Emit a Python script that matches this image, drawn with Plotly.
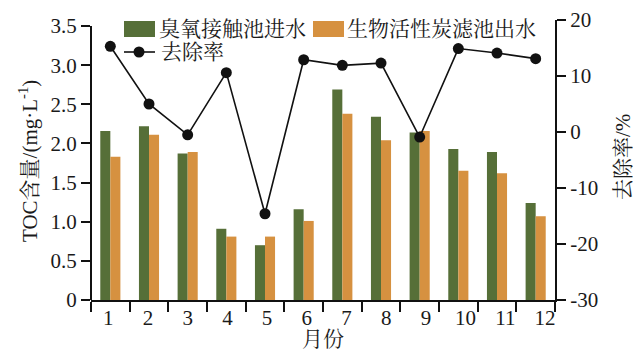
import plotly.graph_objects as go

months = ["1", "2", "3", "4", "5", "6", "7", "8", "9", "10", "11", "12"]
ozone_inflow = [2.16, 2.22, 1.87, 0.91, 0.70, 1.16, 2.69, 2.34, 2.14, 1.93, 1.89, 1.24]
bac_outflow = [1.83, 2.11, 1.89, 0.81, 0.81, 1.01, 2.38, 2.04, 2.16, 1.65, 1.62, 1.07]
removal_rate = [15.3, 5.0, -0.5, 10.6, -14.6, 12.9, 11.9, 12.3, -0.9, 14.9, 14.1, 13.1]

left_ticks = [0, 0.5, 1.0, 1.5, 2.0, 2.5, 3.0, 3.5]
left_ticktext = ["0", "0.5", "1.0", "1.5", "2.0", "2.5", "3.0", "3.5"]
right_ticks = [-30, -20, -10, 0, 10, 20]
right_ticktext = ["-30", "-20", "-10", "0", "10", "20"]

names = ["臭氧接触池进水", "生物活性炭滤池出水", "去除率"]
GREEN = "#566F38"
ORANGE = "#D69140"
BLACK = "#111111"

FONT = "Times New Roman, Liberation Serif, Noto Serif CJK SC, Noto Sans CJK SC, serif"
# page body has an 8px default margin: figure occupies (8,8)-(641,356)
OFF = 8
W, H = 641 - OFF, 356 - OFF
PL, PR, PT, PB = 91, 555, 20, 300  # plot area in page pixels
L, R, T, B = PL - OFF, 641 - PR, PT - OFF, 356 - PB


def px_x(px):
    return (px - PL) / (PR - PL)


def px_y(py):
    return (PB - py) / (PB - PT)


month_nums = [int(m) for m in months]

fig = go.Figure()
fig.add_trace(go.Bar(x=months, y=ozone_inflow, marker=dict(color=GREEN, line=dict(width=0)),
                     name=names[0], showlegend=False))
fig.add_trace(go.Bar(x=months, y=bac_outflow, marker=dict(color=ORANGE, line=dict(width=0)),
                     name=names[1], showlegend=False))
fig.add_trace(go.Scatter(x=months, y=removal_rate, yaxis="y2", mode="lines+markers",
                         line=dict(color=BLACK, width=1.6),
                         marker=dict(color=BLACK, size=11),
                         name=names[2], showlegend=False))
# invisible helper trace for the month-label axis
fig.add_trace(go.Scatter(x=month_nums, y=[None] * len(month_nums), xaxis="x2", mode="markers",
                         showlegend=False, hoverinfo="skip"))

fig.update_layout(
    width=W, height=H,
    margin=dict(l=L, r=R, t=T, b=B, autoexpand=False),
    paper_bgcolor="white", plot_bgcolor="white",
    font=dict(family=FONT, size=21, color="#1a1a1a"),
    barmode="group", bargap=0.48, bargroupgap=0.0,
    showlegend=False,
    xaxis=dict(type="category", range=[-0.5, 11.5], tickson="boundaries", ticks="outside",
               ticklen=10, tickwidth=1.5,
               tickcolor=BLACK, showline=True, linecolor=BLACK, linewidth=2,
               showticklabels=False, showgrid=False, zeroline=False, automargin=False),
    xaxis2=dict(type="linear", overlaying="x", side="bottom", anchor="y",
                range=[0.564, 12.252], tickvals=month_nums, ticktext=months,
                ticks="", showline=False, showgrid=False, zeroline=False,
                tickfont=dict(size=21), automargin=False, ticklabelstandoff=3),
    yaxis=dict(range=[0, 3.577], tickvals=left_ticks, ticktext=left_ticktext,
               ticks="outside", ticklen=9, tickwidth=1.5, tickcolor=BLACK,
               showline=False, showgrid=False, zeroline=False, tickfont=dict(size=21),
               automargin=False),
    yaxis2=dict(range=[-30, 20], overlaying="y", side="right", tickvals=right_ticks,
                ticktext=right_ticktext, ticks="outside", ticklen=9, tickwidth=1.5, tickcolor=BLACK,
                showline=True, linecolor=BLACK, linewidth=2, showgrid=False, zeroline=False,
                tickfont=dict(size=21), automargin=False),
)

# left axis line from 0 to 3.5
fig.add_shape(type="line", xref="paper", yref="y", x0=0, x1=0, y0=0, y1=3.5,
              line=dict(color=BLACK, width=2))

# legend
fig.add_shape(type="rect", xref="paper", yref="paper", x0=px_x(124), x1=px_x(155),
              y0=px_y(37), y1=px_y(21), fillcolor=GREEN, line=dict(width=0))
fig.add_shape(type="rect", xref="paper", yref="paper", x0=px_x(313), x1=px_x(344),
              y0=px_y(37), y1=px_y(21), fillcolor=ORANGE, line=dict(width=0))
fig.add_shape(type="line", xref="paper", yref="paper", x0=px_x(124), x1=px_x(155),
              y0=px_y(52), y1=px_y(52), line=dict(color=BLACK, width=1.6))
fig.add_shape(type="circle", xref="paper", yref="paper", x0=px_x(133.5), x1=px_x(144.5),
              y0=px_y(57.5), y1=px_y(46.5), fillcolor=BLACK, line=dict(width=0))
for text, lx, ly in [(names[0], 158, 29), (names[1], 346, 29), (names[2], 160, 52)]:
    fig.add_annotation(text=text, xref="paper", yref="paper", x=px_x(lx), y=px_y(ly),
                       xanchor="left", yanchor="middle", showarrow=False,
                       font=dict(size=21), borderpad=0)

fig.add_annotation(text="TOC含量/(mg·L<sup>-1</sup>)", xref="paper", yref="paper",
                   x=px_x(28), y=px_y(161), textangle=-90, showarrow=False,
                   font=dict(size=21), xanchor="center", yanchor="middle")
fig.add_annotation(text="去除率/%", xref="paper", yref="paper",
                   x=px_x(623), y=px_y(157), textangle=-90, showarrow=False,
                   font=dict(size=21), xanchor="center", yanchor="middle")
fig.add_annotation(text="月份", xref="paper", yref="paper",
                   x=px_x(323), y=px_y(339), showarrow=False,
                   font=dict(size=21), xanchor="center", yanchor="middle")

fig.write_html("out.html")
